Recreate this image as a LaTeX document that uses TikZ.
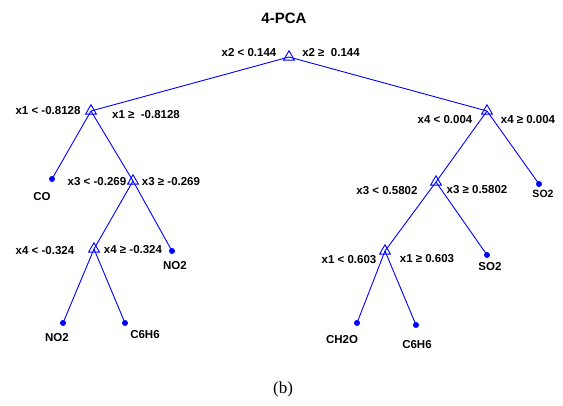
\documentclass[tikz,border=0pt]{standalone}
\usepackage{fontspec}
\setmainfont{Liberation Sans}
\newfontfamily\capfont{Liberation Serif}
\usetikzlibrary{shapes.geometric}
\definecolor{treeblue}{RGB}{0,0,255}
\begin{document}
\begin{tikzpicture}[x=1pt,y=-1pt,
  split/.style={regular polygon,regular polygon sides=3,draw=treeblue,line width=0.9pt,
    inner sep=0pt,minimum size=12.5pt},
  leaf/.style={circle,fill=treeblue,inner sep=0pt,minimum size=6pt},
  branch/.style={draw=treeblue,line width=0.9pt},
  rule/.style={font=\bfseries\fontsize{11.5}{13}\selectfont,inner sep=0pt},
  cls/.style={font=\bfseries\fontsize{11.5}{13}\selectfont,inner sep=0pt}]
\useasboundingbox (0,0) rectangle (563,406);

% tree vertices
\coordinate (root) at (289,57);
\coordinate (L)    at (91,111);
\coordinate (R)    at (487,111);
\coordinate (L3)   at (133,181);
\coordinate (L4)   at (94,249);
\coordinate (R3)   at (436,182);
\coordinate (R1)   at (385,251);
\coordinate (co)   at (52,179);
\coordinate (noA)  at (172,251);
\coordinate (noB)  at (63,323);
\coordinate (bzA)  at (125,323);
\coordinate (soA)  at (539,184);
\coordinate (soB)  at (487,255);
\coordinate (ch)   at (357,323);
\coordinate (bzB)  at (416,325);

% branches
\draw[branch] (root) -- (L);
\draw[branch] (root) -- (R);
\draw[branch] (L) -- (co);
\draw[branch] (L) -- (L3);
\draw[branch] (L3) -- (L4);
\draw[branch] (L3) -- (noA);
\draw[branch] (L4) -- (noB);
\draw[branch] (L4) -- (bzA);
\draw[branch] (R) -- (R3);
\draw[branch] (R) -- (soA);
\draw[branch] (R3) -- (R1);
\draw[branch] (R3) -- (soB);
\draw[branch] (R1) -- (ch);
\draw[branch] (R1) -- (bzB);

% split markers
\foreach \v in {root,L,R,L3,L4,R3,R1}
  \node[split] at (\v) {};
% leaf markers
\foreach \v in {co,noA,noB,bzA,soA,soB,ch,bzB}
  \node[leaf] at (\v) {};

% title
\node[font=\bfseries\fontsize{15}{18}\selectfont] (title) at (284,18) {4-PCA};

% split rules
\node[rule] (r1) at (249,53) {x2 < 0.144};
\node[rule] (r2) at (331,53) {x2 ≥\ \ 0.144};
\node[rule] (r3) at (48,111) {x1 < -0.8128};
\node[rule] (r4) at (146,115) {x1 ≥\ \ -0.8128};
\node[rule] (r5) at (97,182) {x3 < -0.269};
\node[rule] (r6) at (171,182) {x3 ≥ -0.269};
\node[rule] (r7) at (45,251) {x4 < -0.324};
\node[rule] (r8) at (133,250) {x4 ≥ -0.324};
\node[rule] (r9) at (445,120) {x4 < 0.004};
\node[rule] (r10) at (528,120) {x4 ≥ 0.004};
\node[rule] (r11) at (387,191) {x3 < 0.5802};
\node[rule] (r12) at (477,190) {x3 ≥ 0.5802};
\node[rule] (r13) at (349,260) {x1 < 0.603};
\node[rule] (r14) at (427,259) {x1 ≥ 0.603};

% class labels
\node[cls] (lco)  at (42,197) {CO};
\node[cls] (lnoA) at (175,266) {NO2};
\node[cls] (lnoB) at (57,338) {NO2};
\node[cls] (lbzA) at (145,335) {C6H6};
\node[cls,font=\bfseries\fontsize{10.5}{12}\selectfont] (lsoA) at (543,194) {SO2};
\node[cls] (lsoB) at (490,267) {SO2};
\node[cls] (lch)  at (342,340) {CH2O};
\node[cls] (lbzB) at (417,345) {C6H6};

% caption
\node[font=\capfont\fontsize{17}{20}\selectfont] (cap) at (283,389) {(b)};
\end{tikzpicture}
\end{document}
